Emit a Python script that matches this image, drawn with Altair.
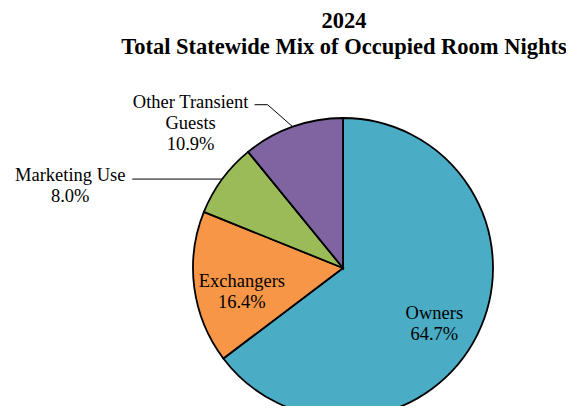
import math
import altair as alt
import pandas as pd

# ---- data ----
categories = ["Owners", "Exchangers", "Marketing Use", "Other Transient Guests"]
shares = [64.7, 16.4, 8.0, 10.9]
label_names = ["Owners", "Exchangers", "Marketing Use", "Other Transient\nGuests"]
colors = ["#4BACC6", "#F79646", "#9BBB59", "#8064A2"]
title_lines = ["2024", "Total Statewide Mix of Occupied Room Nights"]

# ---- layout (style only) ----
W, H = 558, 398
CX, CY, R = 335, 260, 150
FONT = "Liberation Serif"
inside = [True, True, False, False]
IN_R = 102
leader_offsets = {
    "Marketing Use": [(0, 0), (-90, 0)],
    "Other Transient Guests": [(0, 0), (-25, -22), (-38, -22)],
}
text_offsets = {
    "Marketing Use": (-62, -4),
    "Other Transient Guests": (-64, -3),
}

df = pd.DataFrame({"category": categories, "share": shares,
                   "order": list(range(len(categories)))})

total = sum(shares)
label_rows, line_rows = [], []
cum = 0.0
for cat, s, name, ins in zip(categories, shares, label_names, inside):
    mid = (cum + s / 2) / total * 2 * math.pi
    cum += s
    text = f"{name}\n{s:.1f}%"
    if ins:
        x = CX + IN_R * math.sin(mid)
        y = CY - IN_R * math.cos(mid)
        label_rows.append({"category": cat, "text": text, "x": x, "y": y})
    else:
        ex = CX + R * math.sin(mid)
        ey = CY - R * math.cos(mid)
        pts = leader_offsets[cat]
        for i, (dx, dy) in enumerate(pts):
            line_rows.append({"category": cat, "seq": i, "x": ex + dx, "y": ey + dy})
        lx, ly = ex + pts[-1][0], ey + pts[-1][1]
        tdx, tdy = text_offsets[cat]
        label_rows.append({"category": cat, "text": text, "x": lx + tdx, "y": ly + tdy})

labels_df = pd.DataFrame(label_rows)
lines_df = pd.DataFrame(line_rows)

arcs = alt.Chart(df).mark_arc(stroke="black", strokeWidth=1.8, outerRadius=R).encode(
    theta=alt.Theta("share:Q", stack=True),
    order=alt.Order("order:Q"),
    color=alt.Color("category:N", scale=alt.Scale(domain=categories, range=colors), legend=None),
    x=alt.value(CX),
    y=alt.value(CY),
)

leaders = alt.Chart(lines_df).mark_line(color="black", strokeWidth=1).encode(
    x=alt.X("x:Q", scale=None),
    y=alt.Y("y:Q", scale=None),
    detail="category:N",
    order="seq:Q",
)

labels = alt.Chart(labels_df).mark_text(
    font=FONT, fontSize=18.5, lineBreak="\n", lineHeight=21,
    align="center", baseline="middle", color="black"
).encode(
    x=alt.X("x:Q", scale=None),
    y=alt.Y("y:Q", scale=None),
    text="text:N",
)

title_df = pd.DataFrame({"line": title_lines, "row": [0, 1]})
t1 = alt.Chart(title_df).transform_filter("datum.row == 0").mark_text(
    font=FONT, fontSize=22.5, fontWeight="bold", align="center", baseline="alphabetic", color="black"
).encode(text="line:N", x=alt.value(CX + 1), y=alt.value(20))
t2 = alt.Chart(title_df).transform_filter("datum.row == 1").mark_text(
    font=FONT, fontSize=22.5, fontWeight="bold", align="center", baseline="alphabetic", color="black"
).encode(text="line:N", x=alt.value(CX + 1), y=alt.value(46))

chart = alt.layer(arcs, leaders, labels, t1, t2).properties(
    width=W, height=H,
    autosize=alt.AutoSizeParams(type="none"),
    padding=0,
).configure(background="white", view=alt.ViewConfig(stroke=None))

chart.save("out.html", embed_options={"renderer": "svg", "actions": False})
